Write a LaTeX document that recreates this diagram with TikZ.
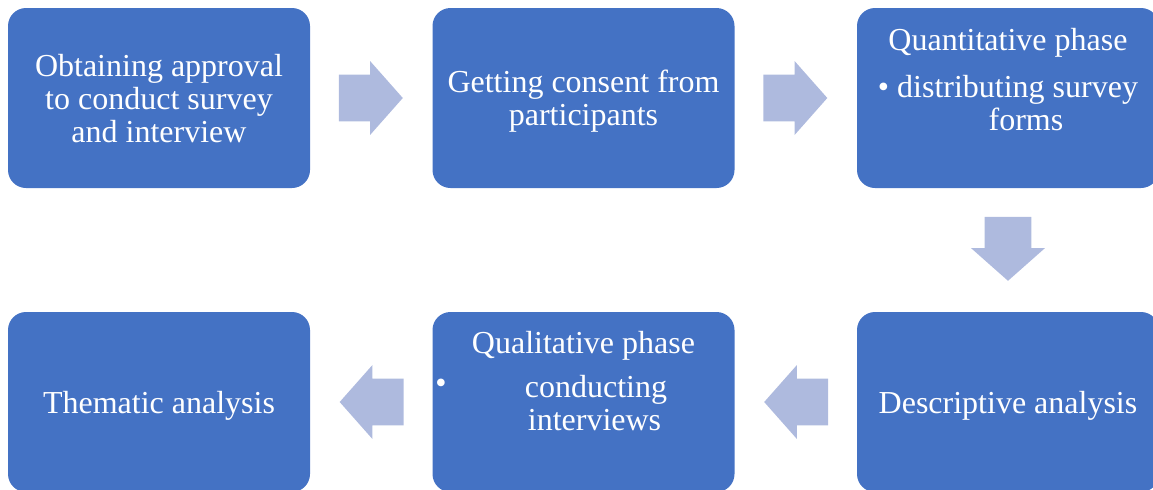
\documentclass[tikz,border=0pt]{standalone}
\usepackage{fontspec}
\setmainfont{Liberation Serif}
\usetikzlibrary{shapes.arrows,calc}

\definecolor{stepblue}{RGB}{68,114,196}
\definecolor{arrowblue}{RGB}{174,186,222}

\begin{document}
\begin{tikzpicture}[x=0.5pt, y=-0.5pt,
  stepbox/.style={fill=stepblue, rounded corners=9pt, minimum width=151pt, minimum height=90pt,
    text=white, align=center, text depth=0pt, font=\fontsize{16}{16.5}\selectfont},
  steptext/.style={text=white, align=center, inner sep=0pt, font=\fontsize{16}{16.5}\selectfont},
  flowarrow/.style={single arrow, fill=arrowblue, inner xsep=0pt, inner ysep=11.5pt, minimum height=32pt,
    minimum width=36.5pt, single arrow head extend=6.75pt, single arrow tip angle=97, anchor=tail}]

\useasboundingbox (0,0) rectangle (1153,489);
\clip (0,0) rectangle (1153,489);

% top row
\node[stepbox] (approval) at (159,98) {Obtaining approval\\to conduct survey\\and interview};
\node[stepbox] (consent) at (583.5,98) {Getting consent from\\participants};
\node[stepbox] (quant) at (1008,98) {};
\node[steptext] (quant-text) at (1008,80) {Quantitative phase\\[7pt]\textbullet\ distributing survey\\\hspace*{18pt}forms};

% bottom row
\node[stepbox] (descr) at (1008,402) {Descriptive analysis};
\node[stepbox] (qual) at (583.5,402) {};
\node[steptext] (qual-text) at (583.5,381) {Qualitative phase\\[5.5pt]\hspace*{12.5pt}conducting\\\hspace*{11pt}interviews};
\node[steptext] (qual-bullet) at (441,386) {\textbullet};
\node[stepbox] (thematic) at (159,402) {Thematic analysis};

% block arrows, tail 28 units off the box they leave
\node[flowarrow] (a1) at ($(approval.east)+(28,0)$) {};
\node[flowarrow] (a2) at ($(consent.east)+(28,0)$) {};
\node[flowarrow, shape border rotate=270, inner xsep=11.5pt, inner ysep=0pt] (a3) at ($(quant.south)+(0,28)$) {};
\node[flowarrow, shape border rotate=180] (a4) at ($(descr.west)+(-28,0)$) {};
\node[flowarrow, shape border rotate=180] (a5) at ($(qual.west)+(-28,0)$) {};
\end{tikzpicture}
\end{document}
